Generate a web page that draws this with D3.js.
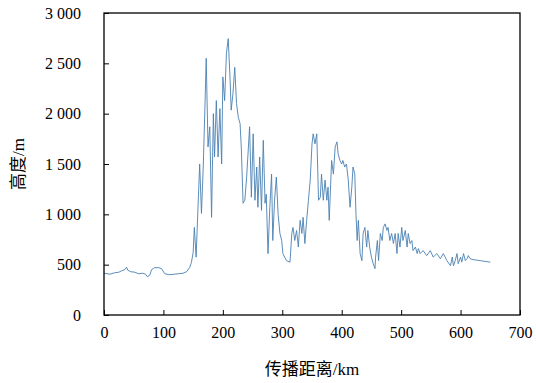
<!DOCTYPE html>
<html>
<head>
<meta charset="utf-8">
<script src="https://cdn.jsdelivr.net/npm/d3@7"></script>
<style>
  body { margin: 0; background: #fff; }
</style>
</head>
<body>
<div id="chart"></div>
<script>
var width = 536;
var height = 383;
var margin = {top: 13, right: 16, bottom: 68, left: 104};
var serif = '"Liberation Serif", "Times New Roman", "DejaVu Serif", serif';
var cjk = '"Liberation Serif", "Noto Sans CJK SC", serif';

// terrain profile: distance (km) and height (m)
var distance = [0,5,10,18,25,30,35,38,40,45,52,58,65,70,73,77,80,85,92,97,102,110,118,125,133,139,144,147,150,152,155,158,161,164,167,170,172,175,178,181,184,186,189,192,195,198,200,203,206,209,212,214,217,220,223,226,229,231,234,237,240,245,248,251,254,257,259,262,265,268,271,273,276,279,282,284,287,290,293,296,299,301,307,313,316,318,321,324,327,330,333,335,338,341,344,347,350,352,355,358,361,364,366,369,372,375,377,379,383,386,389,392,394,397,400,402,405,408,411,414,417,419,422,424,426,428,431,434,436,439,442,444,447,450,453,456,457,460,462,465,468,470,473,476,478,481,484,487,490,493,495,498,501,503,507,510,512,515,518,520,524,527,529,532,537,543,549,554,560,566,571,577,583,586,588,591,594,596,600,602,605,608,611,613,616,621,633,650];
var elevation = [415,410,405,420,425,440,450,475,445,430,425,410,415,405,380,395,450,470,470,460,410,400,405,410,415,430,470,520,620,870,575,1040,1500,1010,1470,2100,2550,1670,1870,970,2000,1570,2130,1570,2050,1500,2365,2130,2600,2745,2365,2035,2200,2460,2100,1965,1900,1670,1110,1140,1370,1870,1170,1800,1140,1470,1070,1570,1040,1735,1110,1200,610,1070,1400,740,1140,1370,1000,810,740,610,540,525,810,870,740,840,675,940,810,970,710,940,1140,1340,1700,1800,1700,1800,1140,1170,1400,1140,1340,1140,1270,940,1535,1400,1670,1720,1600,1535,1500,1535,1470,1500,1340,1070,1270,1470,1400,1000,740,940,610,540,810,870,675,840,675,575,510,460,575,740,540,810,740,870,905,840,870,740,810,710,810,610,810,675,870,740,840,675,810,710,740,640,675,610,660,610,640,590,640,575,610,560,610,540,490,575,490,540,610,510,575,525,610,540,560,590,560,550,540,525];

var xTicks = [0,100,200,300,400,500,600,700];
var yTicks = [0,500,1000,1500,2000,2500,3000];
var xTitle = "传播距离/km";
var yTitle = "高度/m";

var points = distance.map((d, i) => ({x: d, y: elevation[i]}));

var innerW = width - margin.left - margin.right;
var innerH = height - margin.top - margin.bottom;

var svg = d3.select("#chart")
            .append("svg")
            .attr("width", width)
            .attr("height", height);

var g = svg.append("g")
           .attr("transform", "translate(" + margin.left + "," + margin.top + ")");

var x = d3.scaleLinear().domain([0, 700]).range([0, innerW]);
var y = d3.scaleLinear().domain([0, 3000]).range([innerH, 0]);

// numbers like "2 500"
var fmt = d3.formatLocale({decimal: ".", thousands: " ", grouping: [3], currency: ["", ""]}).format(",");

var lineGenerator = d3.line()
                      .x(d => x(d.x))
                      .y(d => y(d.y));

g.append("path")
 .attr("d", lineGenerator(points))
 .attr("fill", "none")
 .attr("stroke", "#4a80b2")
 .attr("stroke-width", 0.9)
 .attr("stroke-linejoin", "round");

var xAxis = g.append("g")
             .attr("transform", "translate(0," + innerH + ")")
             .call(d3.axisBottom(x).tickValues(xTicks).tickFormat(d3.format("d"))
                   .tickSizeInner(-5).tickSizeOuter(0).tickPadding(12));

var yAxis = g.append("g")
             .call(d3.axisLeft(y).tickValues(yTicks).tickFormat(fmt)
                   .tickSizeInner(-5).tickSizeOuter(0).tickPadding(23));

[xAxis, yAxis].forEach(a => {
    a.attr("font-family", serif).attr("font-size", 16);
    a.selectAll("text").attr("fill", "#000");
    a.selectAll("line").attr("stroke", "#000");
    a.select(".domain").remove();
});

// frame around the plot
g.append("rect")
 .attr("width", innerW)
 .attr("height", innerH)
 .attr("fill", "none")
 .attr("stroke", "#000")
 .attr("stroke-width", 1.3);

svg.append("text")
   .attr("x", margin.left + innerW / 2)
   .attr("y", 375)
   .attr("text-anchor", "middle")
   .attr("font-family", cjk)
   .attr("font-size", 17)
   .text(xTitle);

svg.append("text")
   .attr("transform", "translate(24," + (margin.top + innerH / 2) + ") rotate(-90)")
   .attr("text-anchor", "middle")
   .attr("font-family", cjk)
   .attr("font-size", 17)
   .text(yTitle);
</script>
</body>
</html>
